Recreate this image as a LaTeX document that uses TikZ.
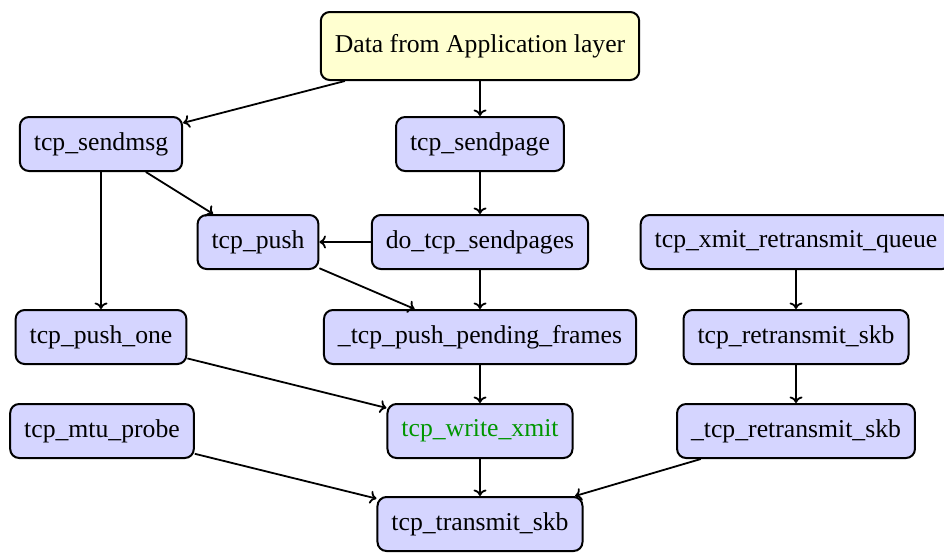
\documentclass[tikz,border=0pt]{standalone}
\usepackage{fontspec}
\setmainfont{Liberation Serif}
\usetikzlibrary{arrows.meta}
\definecolor{boxblue}{RGB}{213,213,255}
\definecolor{boxyellow}{RGB}{255,255,208}
\definecolor{fngreen}{RGB}{0,150,0}
\begin{document}
\begin{tikzpicture}[x=1pt,y=-1pt,
  fn/.style={draw=black, line width=2pt, rounded corners=9pt, fill=boxblue,
    inner xsep=14pt, inner ysep=0pt, minimum height=54pt,
    font=\fontsize{25.7}{30}\selectfont},
  top/.style={fn, fill=boxyellow, minimum height=68pt},
  arr/.style={-{To[length=6.5pt,width=13pt]}, line width=1.8pt}]
\useasboundingbox (0,0) rectangle (944,552);
\node[top] (data) at (480,46) {Data from Application layer};
\node[fn] (sendmsg) at (101,144) {tcp\_sendmsg};
\node[fn] (sendpage) at (480,144) {tcp\_sendpage};
\node[fn] (push) at (258,242) {tcp\_push};
\node[fn] (dosend) at (480,242) {do\_tcp\_sendpages};
\node[fn] (xmitq) at (796,242) {tcp\_xmit\_retransmit\_queue};
\node[fn] (pushone) at (101,337) {tcp\_push\_one};
\node[fn] (pending) at (480,337) {\_tcp\_push\_pending\_frames};
\node[fn] (retrans) at (796,337) {tcp\_retransmit\_skb};
\node[fn] (mtu) at (102,431) {tcp\_mtu\_probe};
\node[fn, text=fngreen] (write) at (480,431) {tcp\_write\_xmit};
\node[fn] (uretrans) at (796,431) {\_tcp\_retransmit\_skb};
\node[fn] (transmit) at (480,524) {tcp\_transmit\_skb};
\draw[arr] (data) -- (sendmsg);
\draw[arr] (data) -- (sendpage);
\draw[arr] (sendmsg) -- (push);
\draw[arr] (sendmsg) -- (pushone);
\draw[arr] (sendpage) -- (dosend);
\draw[arr] (dosend) -- (push);
\draw[arr] (push) -- (pending);
\draw[arr] (dosend) -- (pending);
\draw[arr] (xmitq) -- (retrans);
\draw[arr] (retrans) -- (uretrans);
\draw[arr] (pushone) -- (write);
\draw[arr] (pending) -- (write);
\draw[arr] (mtu) -- (transmit);
\draw[arr] (write) -- (transmit);
\draw[arr] (uretrans) -- (transmit);
\end{tikzpicture}
\end{document}
